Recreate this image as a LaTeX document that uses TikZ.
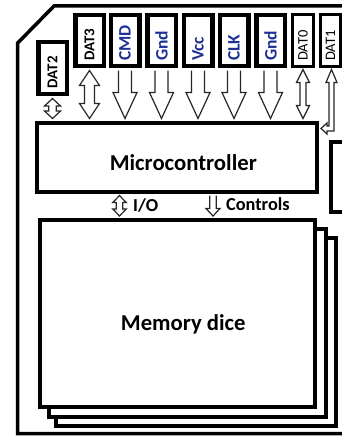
\documentclass[tikz,border=0pt]{standalone}
\usepackage{fontspec}
\setmainfont{Carlito}
\usetikzlibrary{calc}
\definecolor{pinblue}{RGB}{28,48,150}
\newcommand{\sdarrow}[5]{%
  \draw[arrowline] let \p1=#1, \p2=#2 in
    (\x1-#3,\y1) -- (\x1-#3,\y2+#5) -- (\x1-#4,\y2+#5) -- (\x1,\y2)
    -- (\x1+#4,\y2+#5) -- (\x1+#3,\y2+#5) -- (\x1+#3,\y1);}
\newcommand{\ddarrow}[5]{%
  \draw[arrowline] let \p1=#1, \p2=#2 in
    (\x1,\y1) -- (\x1+#4,\y1-#5) -- (\x1+#3,\y1-#5) -- (\x1+#3,\y2+#5)
    -- (\x1+#4,\y2+#5) -- (\x1,\y2) -- (\x1-#4,\y2+#5) -- (\x1-#3,\y2+#5)
    -- (\x1-#3,\y1-#5) -- (\x1-#4,\y1-#5) -- cycle;}
\begin{document}
\begin{tikzpicture}[x=1pt,y=1pt,
  pinbox/.style={draw=black, line width=4.5pt, fill=white, minimum width=28.5pt, minimum height=51pt, inner sep=0pt},
  thinpin/.style={draw=black, line width=3pt, fill=white, minimum width=21pt, minimum height=52pt, inner sep=0pt},
  chip/.style={draw=black, line width=4pt, fill=white, inner sep=0pt},
  arrowline/.style={draw=black!85, line width=1.2pt, fill=white, line join=miter},
  bluelbl/.style={rotate=90, anchor=west, inner sep=0pt, text=pinblue, font=\bfseries\fontsize{17.5}{17.5}\selectfont},
  datlbl/.style={rotate=90, anchor=west, inner sep=0pt, text=black, font=\bfseries\fontsize{15}{15}\selectfont},
  datthin/.style={rotate=90, anchor=west, inner sep=0pt, text=black, font=\fontsize{14.5}{14.5}\selectfont},
  biglbl/.style={anchor=base, inner sep=0pt, text=black, font=\bfseries\fontsize{22.7}{22.7}\selectfont},
  smalllbl/.style={anchor=base west, inner sep=0pt, text=black, font=\bfseries\fontsize{18.3}{18.3}\selectfont}
]
\useasboundingbox (0,0) rectangle (342,-436);
\clip (0,0) rectangle (342,-436);
\fill[white] (0,0) rectangle (342,-436);

% card outline
\draw[line width=3.5pt, line join=miter] (350,-6) -- (54,-6) -- (17.7,-43) -- (17.7,-433.5) -- (350,-433.5);

% pins
\node[pinbox, minimum height=52pt] (dat2) at (52.5,-68) {};
\node[pinbox] (dat3) at (89.5,-40.5) {};
\node[pinbox] (cmd)  at (125,-40.5) {};
\node[pinbox] (gnda) at (161.5,-40.5) {};
\node[pinbox] (vcc)  at (198,-40.5) {};
\node[pinbox] (clk)  at (234,-40.5) {};
\node[pinbox] (gndb) at (270.5,-40.5) {};
\node[thinpin] (dat0) at (303,-40.5) {};
\node[thinpin, minimum width=20pt] (dat1) at (330.5,-40.5) {};

\node[datlbl]  (l2) at (52.5,-88.5) {DAT2};
\node[datlbl]  (l3) at (89.5,-61) {DAT3};
\node[bluelbl] (lc) at (125,-61) {CMD};
\node[bluelbl] (lg) at (161.5,-61) {Gnd};
\node[bluelbl] (lv) at (198,-61) {Vcc};
\node[bluelbl] (lk) at (234,-61) {CLK};
\node[bluelbl] (lh) at (270.5,-61) {Gnd};
\node[datthin] (l0) at (303,-61) {DAT0};
\node[datthin] (l1) at (330.5,-61) {DAT1};

% chips
\node[chip, minimum width=280.5pt, minimum height=69pt] (mc) at (176.75,-157) {};
\node[biglbl] (mclbl) at (183.3,-170) {Microcontroller};
\node[chip, minimum width=70pt, minimum height=70pt] (side) at (366.3,-176.7) {};

\node[chip, minimum width=279.5pt, minimum height=188.5pt] (die3) at (195.75,-331.75) {};
\node[chip, minimum width=277pt, minimum height=188pt] (die2) at (187,-322.5) {};
\node[chip, minimum width=275pt, minimum height=187pt] (die1) at (177.5,-313.5) {};
\node[biglbl] (memlbl) at (183.3,-330) {Memory dice};

% pin arrows
\ddarrow{($(dat2.south)+(0,-2.25)$)}{($(dat2.south|-mc.north)+(0,2)$)}{3.7pt}{8pt}{7.5pt}
\ddarrow{($(dat3.south)+(0,-2.25)$)}{($(dat3.south|-mc.north)+(0,2)$)}{5pt}{10pt}{15pt}
\sdarrow{($(cmd.south)+(0,-2.25)$)}{($(cmd.south|-mc.north)+(0,2)$)}{6.5pt}{12pt}{26pt}
\sdarrow{($(gnda.south)+(0,-2.25)$)}{($(gnda.south|-mc.north)+(0,2)$)}{6.5pt}{12pt}{26pt}
\sdarrow{($(vcc.south)+(0,-2.25)$)}{($(vcc.south|-mc.north)+(0,2)$)}{6.5pt}{12pt}{26pt}
\sdarrow{($(clk.south)+(0,-2.25)$)}{($(clk.south|-mc.north)+(0,2)$)}{6.5pt}{12pt}{26pt}
\sdarrow{($(gndb.south)+(0,-2.25)$)}{($(gndb.south|-mc.north)+(0,2)$)}{6.5pt}{12pt}{26pt}
\ddarrow{($(dat0.south)+(0,-1.5)$)}{($(dat0.south|-mc.north)+(0,2)$)}{3pt}{6.5pt}{13pt}
% DAT1 bent connector
\draw[arrowline] let \p1=($(dat1.south)+(1,-1.5)$), \p2=($(mc.north east)+(2,-8)$) in
  (\x1,\y1) -- (\x1+5.5pt,\y1-13pt) -- (\x1+2.5pt,\y1-13pt) -- (\x1+2.5pt,\y2-2.5pt)
  -- (\x2+6pt,\y2-2.5pt) -- (\x2+6pt,\y2-5.5pt) -- (\x2,\y2) -- (\x2+6pt,\y2+5.5pt)
  -- (\x2+6pt,\y2+2.5pt) -- (\x1-2.5pt,\y2+2.5pt) -- (\x1-2.5pt,\y1-13pt)
  -- (\x1-5.5pt,\y1-13pt) -- cycle;

% mc to dice
\coordinate (iotop) at ($(mc.south west)+(85,-2)$);
\coordinate (iobot) at ($(iotop|-die1.north)+(0,2)$);
\coordinate (cttop) at ($(mc.south west)+(178.5,-2)$);
\coordinate (ctbot) at ($(cttop|-die1.north)+(0,2)$);
\ddarrow{(iotop)}{(iobot)}{3.3pt}{6.7pt}{7pt}
\sdarrow{(cttop)}{(ctbot)}{3.3pt}{7pt}{7.5pt}
\node[smalllbl] (iolbl) at (133,-211) {I/O};
\node[smalllbl] (ctlbl) at (226,-210.7) {Controls};
\end{tikzpicture}
\end{document}
